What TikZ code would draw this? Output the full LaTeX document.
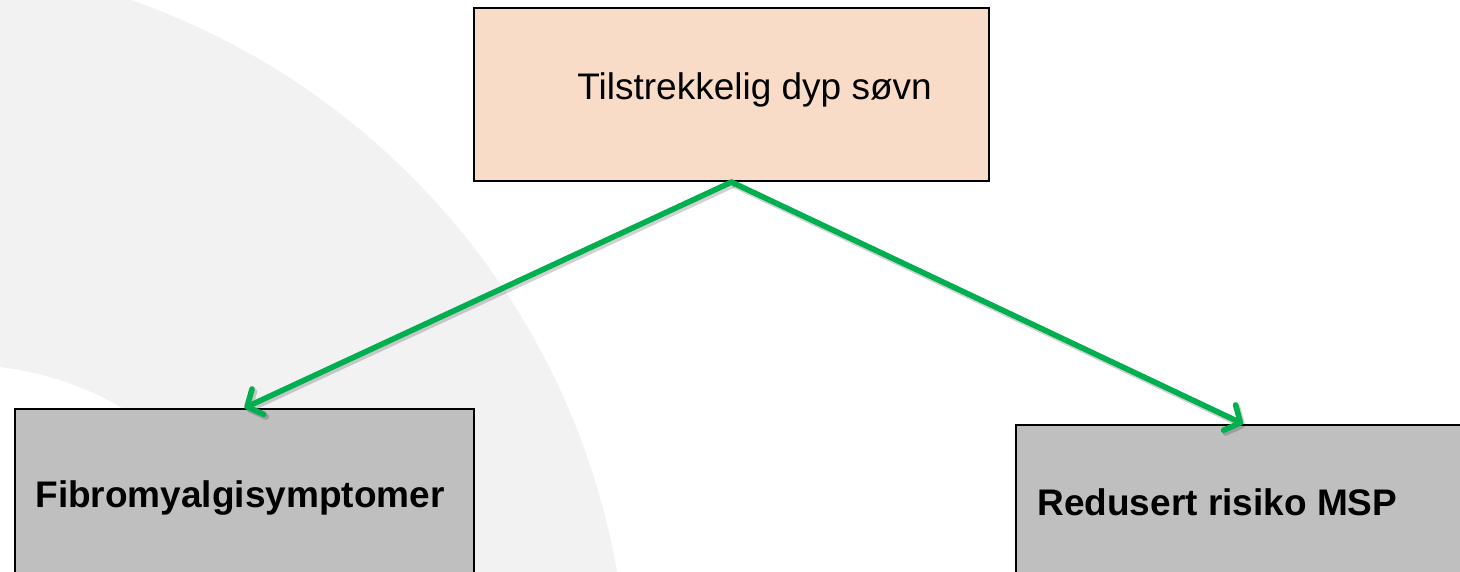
\documentclass[tikz,border=0pt]{standalone}
\usepackage{fontspec}
\setmainfont{Liberation Sans}
\usetikzlibrary{arrows.meta}
\definecolor{ringgray}{HTML}{F2F2F2}
\definecolor{peach}{HTML}{F9DCC7}
\definecolor{boxgray}{HTML}{BFBFBF}
\definecolor{arrowgreen}{HTML}{00B050}
\tikzset{
  box/.style={draw=black, line width=1.1pt, inner sep=0pt},
  topbox/.style={box, fill=peach, minimum width=257.5pt, minimum height=86.5pt},
  lowbox/.style={box, fill=boxgray, minimum height=86.5pt},
  lbl/.style={anchor=base west, inner sep=0pt, font=\fontsize{18.5}{22}\selectfont},
  boldlbl/.style={lbl, font=\fontsize{18.5}{22}\selectfont\bfseries},
  link/.style={draw=arrowgreen, line width=2.8pt, line cap=round, -{Straight Barb[length=6pt,width=14pt,round]}},
  linkshadow/.style={draw=black, opacity=0.18, line width=3pt, -{Straight Barb[length=6pt,width=14pt,round]}}
}
\begin{document}
\begin{tikzpicture}[x=0.5pt, y=-0.5pt]
\clip (0,0) rectangle (1460,572);
\fill[white] (0,0) rectangle (1460,572);
% background ring
\fill[ringgray] (-113,700) circle [radius=741];
\fill[white] (-37,680) circle [radius=315];
% boxes
\node[topbox] (top) at (731.5,94.5) {};
\node[lowbox, minimum width=229.5pt] (left) at (244.5,495.5) {};
\node[lowbox, minimum width=227pt] (right) at (1243,511.5) {};
% texts
\node[lbl] (ttop) at (577,100) {Tilstrekkelig dyp søvn};
\node[boldlbl] (tleft) at (35,507) {Fibromyalgisymptomer};
\node[boldlbl] (tright) at (1037,515) {Redusert risiko MSP};
% connectors
\begin{scope}[transform canvas={shift={(1pt,-1.3pt)}}]
\draw[linkshadow] (top.south) -- (left.north);
\draw[linkshadow] (top.south) -- (right.north);
\end{scope}
\draw[link] (top.south) -- (left.north);
\draw[link] (top.south) -- (right.north);
\end{tikzpicture}
\end{document}
